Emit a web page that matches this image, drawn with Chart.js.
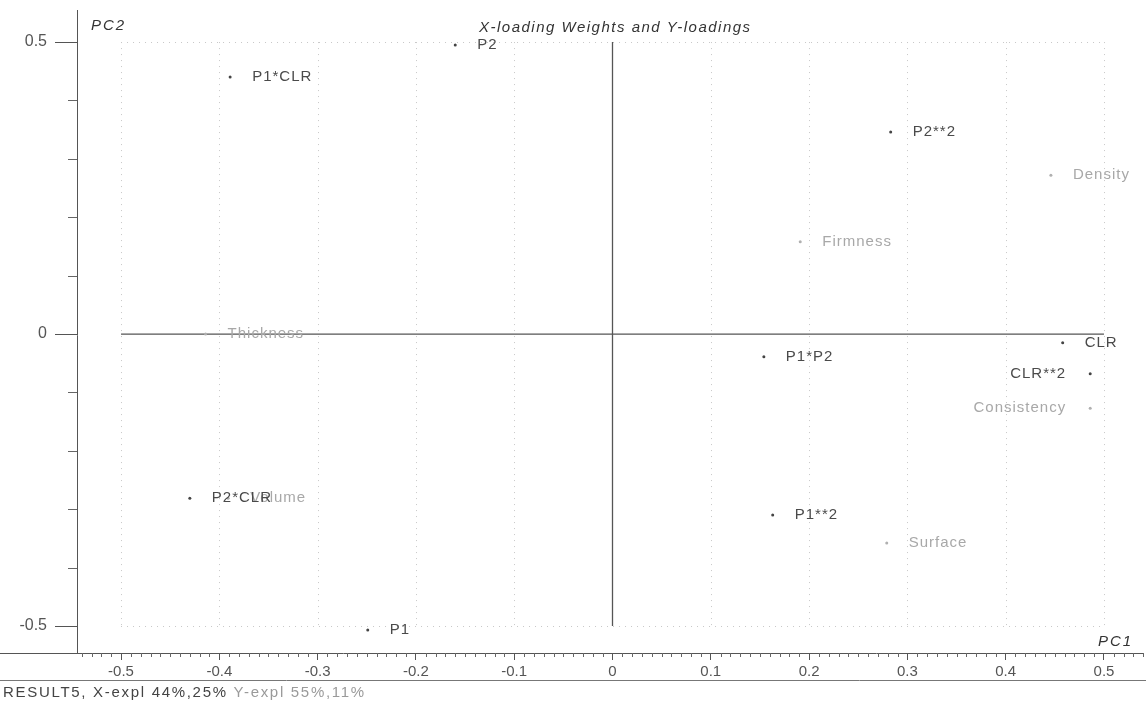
<!DOCTYPE html>
<html>
<head>
<meta charset="utf-8">
<script src="https://cdn.jsdelivr.net/npm/chart.js@4.4.1/dist/chart.umd.min.js"></script>
<style>
  html, body { margin: 0; padding: 0; background: #fff; }
  #wrap { width: 1146px; height: 703px; position: relative; }
</style>
</head>
<body>
<div id="wrap"><canvas id="chart"></canvas></div>
<script>
// X-loading weights (predictors)
const xVarNames = ["P1", "P2", "CLR", "P1*P2", "P1*CLR", "P2*CLR", "P1**2", "P2**2", "CLR**2"];
const xVarPC1 = [-0.249, -0.160, 0.458, 0.154, -0.389, -0.430, 0.163, 0.283, 0.486];
const xVarPC2 = [-0.507, 0.495, -0.015, -0.039, 0.440, -0.281, -0.310, 0.346, -0.068];

// Y-loadings (responses)
const yVarNames = ["Density", "Firmness", "Thickness", "Consistency", "Volume", "Surface"];
const yVarPC1 = [0.446, 0.191, -0.414, 0.486, -0.391, 0.279];
const yVarPC2 = [0.272, 0.158, 0.000, -0.127, -0.281, -0.358];

const chartTitle = "X-loading Weights and Y-loadings";
const footerMain = "RESULT5, X-expl 44%,25%";
const footerY = "Y-expl 55%,11%";
const majorYLabels = [0.5, 0, -0.5];

const FONT = "'Liberation Sans', Arial, sans-serif";
const leftLabels = ["CLR**2", "Consistency"];

function toPoints(xs, ys) {
  return xs.map((x, i) => ({ x, y: ys[i] }));
}

const overlay = {
  id: "overlay",
  beforeDatasetsDraw(chart) {
    const { ctx } = chart;
    const sx = chart.scales.x, sy = chart.scales.y;
    const x0 = sx.getPixelForValue(-0.5), x1 = sx.getPixelForValue(0.5);
    const y0 = sy.getPixelForValue(0.5), y1 = sy.getPixelForValue(-0.5);

    ctx.save();
    // dotted grid inside the +-0.5 box
    ctx.strokeStyle = "#c8c8c8";
    ctx.lineWidth = 1;
    ctx.setLineDash([1, 5]);
    sx.ticks.forEach(t => {
      if (Math.abs(t.value) < 1e-9) return;
      const px = Math.round(sx.getPixelForValue(t.value)) + 0.5;
      ctx.beginPath(); ctx.moveTo(px, y0); ctx.lineTo(px, y1); ctx.stroke();
    });
    [0.5, -0.5].forEach(v => {
      const py = Math.round(sy.getPixelForValue(v)) + 0.5;
      ctx.beginPath(); ctx.moveTo(x0, py); ctx.lineTo(x1, py); ctx.stroke();
    });

    // solid cross through the origin
    ctx.setLineDash([]);
    ctx.strokeStyle = "#555";
    ctx.lineWidth = 1.3;
    const ox = sx.getPixelForValue(0), oy = sy.getPixelForValue(0);
    ctx.beginPath(); ctx.moveTo(x0, oy); ctx.lineTo(x1, oy); ctx.stroke();
    ctx.beginPath(); ctx.moveTo(ox, y0); ctx.lineTo(ox, y1); ctx.stroke();
    ctx.restore();
  },
  afterDraw(chart) {
    const { ctx, chartArea, width } = chart;
    const sx = chart.scales.x, sy = chart.scales.y;
    ctx.save();

    // minor ticks on x axis (every 0.01)
    ctx.strokeStyle = "#666";
    ctx.lineWidth = 1;
    for (let i = -54; i <= 54; i++) {
      if (i % 10 === 0) continue;
      const px = Math.round(sx.getPixelForValue(i / 100)) + 0.5;
      ctx.beginPath(); ctx.moveTo(px, chartArea.bottom); ctx.lineTo(px, chartArea.bottom + 4); ctx.stroke();
    }
    // minor ticks on y axis (every 0.1 without label)
    sy.ticks.forEach(t => {
      const v = Math.round(t.value * 10) / 10;
      if (majorYLabels.includes(v)) return;
      const py = Math.round(sy.getPixelForValue(t.value)) + 0.5;
      ctx.beginPath(); ctx.moveTo(chartArea.left - 9, py); ctx.lineTo(chartArea.left, py); ctx.stroke();
    });

    // axis lines reach a bit further than the chart area
    ctx.strokeStyle = "#555";
    const ax = Math.round(chartArea.left) + 0.5;
    ctx.beginPath(); ctx.moveTo(ax, 10); ctx.lineTo(ax, chartArea.top); ctx.stroke();
    ctx.beginPath(); ctx.moveTo(0, chartArea.bottom + 0.5); ctx.lineTo(chartArea.left, chartArea.bottom + 0.5); ctx.stroke();
    ctx.strokeStyle = "#777";
    ctx.beginPath(); ctx.moveTo(0, 680.5); ctx.lineTo(width, 680.5); ctx.stroke();

    // point labels
    ctx.textBaseline = "middle";
    ctx.font = "15px " + FONT;
    ctx.letterSpacing = "1px";
    const drawLabels = (names, xs, ys, color) => {
      ctx.fillStyle = color;
      names.forEach((name, i) => {
        const px = sx.getPixelForValue(xs[i]);
        const py = sy.getPixelForValue(ys[i]);
        if (leftLabels.includes(name)) {
          ctx.textAlign = "right";
          ctx.fillText(name, px - 24, py);
        } else {
          ctx.textAlign = "left";
          ctx.fillText(name, px + 22, py);
        }
      });
    };
    drawLabels(yVarNames, yVarPC1, yVarPC2, "#a8a8a8");
    drawLabels(xVarNames, xVarPC1, xVarPC2, "#4a4a4a");

    // title and axis names
    ctx.textAlign = "left";
    ctx.fillStyle = "#333";
    ctx.font = "italic 15px " + FONT;
    ctx.letterSpacing = "1.5px";
    ctx.fillText(chartTitle, 479, 28);
    ctx.letterSpacing = "2px";
    ctx.fillText("PC2", 91, 26);
    ctx.fillText("PC1", 1098, 642);

    // footer
    ctx.font = "15px " + FONT;
    ctx.letterSpacing = "1.7px";
    ctx.fillStyle = "#444";
    ctx.fillText(footerMain, 3, 693);
    const w = ctx.measureText(footerMain + " ").width;
    ctx.fillStyle = "#9a9a9a";
    ctx.fillText(footerY, 3 + w, 693);
    ctx.restore();
  }
};

new Chart(document.getElementById("chart"), {
  type: "scatter",
  data: {
    datasets: [
      {
        label: "X-loading weights",
        data: toPoints(xVarPC1, xVarPC2),
        pointRadius: 1.5,
        pointBackgroundColor: "#444",
        pointBorderWidth: 0,
      },
      {
        label: "Y-loadings",
        data: toPoints(yVarPC1, yVarPC2),
        pointRadius: 1.5,
        pointBackgroundColor: "#b0b0b0",
        pointBorderWidth: 0,
      },
    ],
  },
  options: {
    responsive: true,
    maintainAspectRatio: false,
    animation: false,
    layout: { padding: { top: 7, right: 0, left: 0, bottom: 0 } },
    plugins: { legend: { display: false }, tooltip: { enabled: false }, title: { display: false } },
    scales: {
      x: {
        type: "linear",
        min: -0.5448,
        max: 0.5387,
        border: { color: "#555", width: 1 },
        grid: { drawOnChartArea: false, drawTicks: true, tickLength: 7, color: "#555" },
        ticks: {
          stepSize: 0.1,
          includeBounds: false,
          autoSkip: false,
          maxRotation: 0,
          padding: 3,
          color: "#555",
          font: { family: FONT, size: 15 },
          callback: v => String(Math.round(v * 10) / 10),
        },
        afterFit: s => { s.height = 50; },
      },
      y: {
        type: "linear",
        min: -0.5462,
        max: 0.5419,
        border: { color: "#555", width: 1 },
        grid: {
          drawOnChartArea: false,
          drawTicks: true,
          tickLength: 22,
          tickColor: c => majorYLabels.includes(Math.round(c.tick.value * 10) / 10) ? "#555" : "rgba(0,0,0,0)",
        },
        ticks: {
          stepSize: 0.1,
          includeBounds: false,
          autoSkip: false,
          padding: 8,
          color: "#555",
          font: { family: FONT, size: 16 },
          callback: v => {
            const r = Math.round(v * 10) / 10;
            return majorYLabels.includes(r) ? String(r) : "";
          },
        },
        afterFit: s => { s.width = 77; },
      },
    },
  },
  plugins: [overlay],
});
</script>
</body>
</html>
